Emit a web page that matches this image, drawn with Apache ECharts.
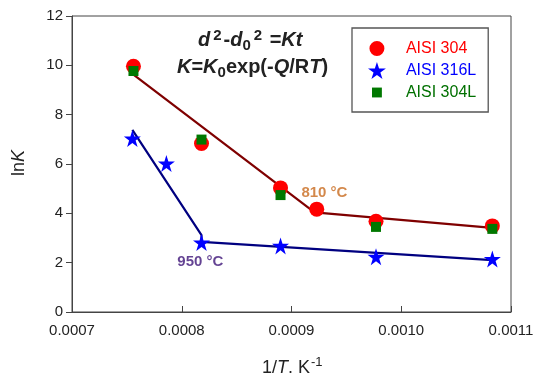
<!DOCTYPE html>
<html><head><meta charset="utf-8">
<script src="https://cdn.jsdelivr.net/npm/echarts@6/dist/echarts.min.js"></script>
<style>html,body{margin:0;padding:0;background:#fff}#c{width:540px;height:373px}</style>
</head><body><div id="c"></div>
<script>
// Data
const xTicks = [0.0007, 0.0008, 0.0009, 0.0010, 0.0011];
const yTicks = [0, 2, 4, 6, 8, 10, 12];
const invT304 = [0.000756, 0.000818, 0.000890, 0.000923, 0.000977, 0.001083];
const lnK304  = [9.96, 6.83, 5.03, 4.17, 3.68, 3.49];
const invT316L = [0.000755, 0.000786, 0.000818, 0.000890, 0.000977, 0.001083];
const lnK316L  = [7.03, 6.02, 2.82, 2.68, 2.24, 2.15];
const invT304L = [0.000756, 0.000818, 0.000890, 0.000977, 0.001083];
const lnK304L  = [9.77, 6.99, 4.74, 3.45, 3.37];
const fit304X = [0.000756, 0.000921, 0.001083];
const fit304Y = [9.62, 4.04, 3.41];
const fit316X = [0.000755, 0.000818, 0.000818, 0.001083];
const fit316Y = [7.38, 3.12, 2.84, 2.10];
const seriesNames = ['AISI 304', 'AISI 316L', 'AISI 304L'];
const annot = [{t:'810 °C', x:0.000909, y:4.85}, {t:'950 °C', x:0.000796, y:2.05}];

const zip = (a,b) => a.map((v,i)=>[v,b[i]]);
const starPath = 'path://M50,0 L61.2,34.5 L97.6,34.5 L68.2,55.9 L79.4,90.5 L50,69.1 L20.6,90.5 L31.8,55.9 L2.4,34.5 L38.8,34.5 Z';
const circleIcon = 'path://M0,0 M100,100 M50,6 A44,44 0 1 1 49.9,6 Z';
const squareIcon = 'path://M0,0 M100,100 M21,21 L79,21 L79,79 L21,79 Z';
const FONT = 'Arial, "Liberation Sans", sans-serif';

const chart = echarts.init(document.getElementById('c'), null, {renderer:'canvas'});
chart.setOption({
  animation:false,
  backgroundColor:'#fff',
  grid:{left:72, top:16, right:29, bottom:61, show:true, borderColor:'#444', borderWidth:1},
  xAxis:{type:'value', min:xTicks[0], max:xTicks[xTicks.length-1], interval:0.0001,
    axisLine:{lineStyle:{color:'#444', width:1}},
    axisTick:{inside:true, length:6, lineStyle:{color:'#444'}},
    splitLine:{show:false},
    axisLabel:{fontFamily:FONT, fontSize:15, color:'#222', margin:11, formatter:v=>v.toFixed(4), showMaxLabel:true, showMinLabel:true}
  },
  yAxis:{type:'value', min:yTicks[0], max:yTicks[yTicks.length-1], interval:2,
    axisLine:{show:true, lineStyle:{color:'#444', width:1}},
    axisTick:{show:true, inside:false, length:6, lineStyle:{color:'#444'}},
    splitLine:{show:false},
    axisLabel:{fontFamily:FONT, fontSize:15, color:'#222', margin:9}
  },
  legend:{
    left:352, top:28, orient:'vertical',
    padding:[12, 12, 11, 16], itemGap:5, itemWidth:22, itemHeight:17,
    borderColor:'#555', borderWidth:1.3,
    textStyle:{fontFamily:FONT, fontSize:16, padding:[0,0,0,13]},
    data:[
      {name:seriesNames[0], icon:circleIcon, textStyle:{color:'#ff0000'}},
      {name:seriesNames[1], icon:starPath, textStyle:{color:'#0000ff'}},
      {name:seriesNames[2], icon:squareIcon, textStyle:{color:'#007000'}}
    ]
  },
  graphic:[
    {type:'text', x:198, y:28, z:100, style:{
      text:'{i|d}{sup|2}{b|-}{i|d}{sub|0}{sup|2}{b| =}{i|Kt}',
      fill:'#222', rich:{
        i:{fontFamily:FONT, fontSize:20, fontWeight:'bold', fontStyle:'italic', fill:'#222', height:25, verticalAlign:'bottom'},
        b:{fontFamily:FONT, fontSize:20, fontWeight:'bold', fill:'#222', height:25, verticalAlign:'bottom'},
        sup:{fontFamily:FONT, fontSize:15, fontWeight:'bold', fill:'#222', verticalAlign:'top', padding:[0,2,10,3]},
        sub:{fontFamily:FONT, fontSize:15, fontWeight:'bold', fill:'#222', verticalAlign:'bottom', padding:[10,0,0,0]}
      }}},
    {type:'text', x:177, y:55, z:100, style:{
      text:'{i|K}{b|=}{i|K}{sub|0}{b|exp(-}{i|Q}{b|/R}{i|T}{b|)}',
      fill:'#222', rich:{
        i:{fontFamily:FONT, fontSize:20, fontWeight:'bold', fontStyle:'italic', fill:'#222', height:25, verticalAlign:'bottom'},
        b:{fontFamily:FONT, fontSize:20, fontWeight:'bold', fill:'#222', height:25, verticalAlign:'bottom'},
        sub:{fontFamily:FONT, fontSize:15, fontWeight:'bold', fill:'#222', verticalAlign:'bottom', padding:[10,0,0,0]}
      }}},
    {type:'text', x:19, y:163, rotation:Math.PI/2, z:100, style:{
      text:'{n|ln}{i|K}', align:'center', verticalAlign:'middle',
      rich:{n:{fontFamily:FONT, fontSize:18, fill:'#222'}, i:{fontFamily:FONT, fontSize:18, fontStyle:'italic', fill:'#222'}}}},
    {type:'text', x:262, y:356, z:100, style:{
      text:'{n|1/}{i|T}{n|. K}{sup|-1}',
      rich:{n:{fontFamily:FONT, fontSize:18, fill:'#222', height:22, verticalAlign:'bottom'},
            i:{fontFamily:FONT, fontSize:18, fontStyle:'italic', fill:'#222', height:22, verticalAlign:'bottom'},
            sup:{fontFamily:FONT, fontSize:13, fill:'#222', verticalAlign:'top', padding:[0,0,10,1]}}}}
  ],
  series:[
    {name:'fit304', type:'line', data:zip(fit304X, fit304Y), symbol:'none', lineStyle:{color:'#7f0000', width:2.2}, z:1, silent:true},
    {name:'fit316', type:'line', data:zip(fit316X, fit316Y), symbol:'none', lineStyle:{color:'#000080', width:2.2}, z:1, silent:true},
    {name:seriesNames[0], type:'scatter', data:zip(invT304, lnK304), symbol:'circle', symbolSize:15, itemStyle:{color:'#ff0000', opacity:1}, z:2},
    {name:seriesNames[1], type:'scatter', data:zip(invT316L, lnK316L), symbol:starPath, symbolSize:17, itemStyle:{color:'#0000ff', opacity:1}, z:3},
    {name:seriesNames[2], type:'scatter', data:zip(invT304L, lnK304L), symbol:'rect', symbolSize:10, itemStyle:{color:'#007800', opacity:1}, z:4},
    {name:'labels', type:'scatter', symbolSize:0, silent:true, z:5,
      data:annot.map((a,i)=>({value:[a.x,a.y], label:{show:true, formatter:a.t, position:'right', distance:0,
        fontFamily:FONT, fontSize:15, fontWeight:'bold', color: i===0 ? '#c86a1e' : '#3d1478'}}))}
  ]
});
</script></body></html>
